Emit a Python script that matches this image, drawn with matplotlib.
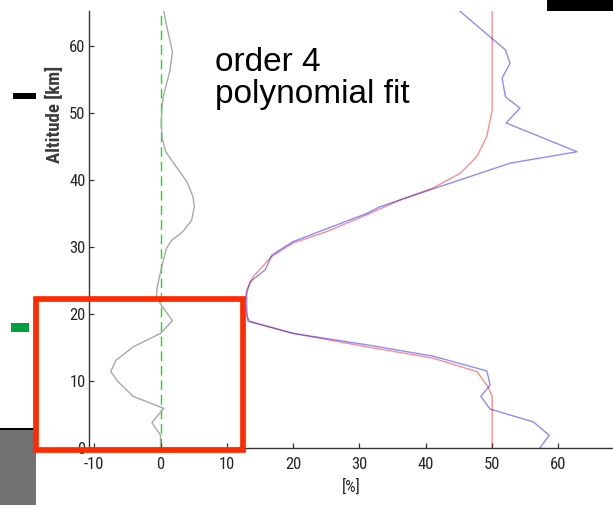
import matplotlib.pyplot as plt
from matplotlib.patches import Rectangle

plt.rcParams['font.family'] = ['Liberation Sans Narrow', 'DejaVu Sans Condensed',
                               'Roboto Condensed', 'Liberation Sans']
plt.rcParams['lines.scale_dashes'] = False
plt.rcParams['axes.unicode_minus'] = False

# Measured profile (blue) and its order 4 polynomial fit (red), in %
data_alt = [0, 1.9, 3.9, 5.8, 7.7, 9.4, 11.5, 13.7, 15.4, 17.1, 18.9, 20.6, 23.1, 24.8, 26.6,
            28.8, 30.8, 35.0, 36.0, 37.0, 38.0, 42.0, 42.5, 44.2, 48.5, 50.7, 52.4, 55.2, 57.4,
            59.4, 65.2]
data_val = [57.2, 58.6, 56.2, 49.7, 48.3, 49.7, 49.2, 41.1, 31.1, 20.0, 13.2, 13.0, 13.0, 13.5, 15.8,
            16.8, 20.0, 31.1, 33.1, 36.1, 39.1, 51.2, 52.7, 62.8, 52.1, 54.2, 52.0, 51.5, 52.7,
            52.0, 45.1]

fit_alt = [0, 7.7, 9.1, 11.4, 13.4, 15.1, 17.1, 18.9, 19.6, 21.6, 23.6, 25.6, 28.6, 30.6, 32.3,
           34.8, 37.0, 38.8, 41.0, 43.5, 46.5, 50.4, 65.2]
fit_val = [50.0, 50.0, 49.4, 47.7, 41.1, 31.1, 20.0, 13.5, 13.0, 12.7, 13.0, 14.0, 16.8, 20.0, 25.1,
           31.1, 36.1, 41.1, 45.2, 47.7, 49.2, 50.0, 50.0]

# Residual profile (gray), in %
res_alt = [0, 1.9, 3.8, 5.9, 7.7, 9.9, 11.4, 13.1, 15.1, 17.1, 19.0, 21.5, 22.5, 24.0, 27.1, 29.8,
           31.0, 32.3, 34.0, 36.0, 37.5, 39.7, 42.2, 44.2, 46.0, 48.2, 50.4, 52.4, 56.2, 59.1, 63.1, 65.2]
res_val = [0.0, 0.0, -1.3, 0.5, -4.1, -6.4, -7.5, -6.7, -4.1, 0.0, 1.8, 0.0, -0.6, -0.5, 0.2, 0.9,
           1.7, 3.4, 4.7, 5.1, 4.9, 4.0, 2.2, 0.8, 0.3, 0.1, 0.2, 0.4, 1.4, 1.8, 0.9, 0.5]

x_ticks = [-10, 0, 10, 20, 30, 40, 50, 60]
y_ticks = [0, 10, 20, 30, 40, 50, 60]

fig = plt.figure(figsize=(6.13, 5.05), dpi=100)
ax = fig.add_axes([89 / 613, 57 / 505, 524 / 613, 437 / 505])

ax.axvline(0, color='#00ee00', lw=1.0, dashes=(7, 3.5), zorder=1)
ax.plot(res_val, res_alt, color='#a8a8a8', lw=1.0, zorder=2)
ax.plot(fit_val, fit_alt, color='#ff0000', alpha=0.45, lw=1.0, zorder=3)
ax.plot(data_val, data_alt, color='#0000ff', alpha=0.45, lw=1.0, zorder=4)

ax.set_xlim(-10.78, 68.22)
ax.set_ylim(0, 65.2)
ax.set_xticks(x_ticks)
ax.set_yticks(y_ticks)
for side in ['top', 'right']:
    ax.spines[side].set_visible(False)
for side in ['left', 'bottom']:
    ax.spines[side].set_color('#333333')
    ax.spines[side].set_linewidth(1.0)
ax.tick_params(direction='in', length=3.6, width=0.9, color='#333333',
               labelsize=12, labelcolor='#262626')
ax.tick_params(axis='x', pad=6.5)
ax.tick_params(axis='y', pad=2.5)

ax.set_xlabel('[%]', fontsize=12, color='#262626', labelpad=5)
ax.set_ylabel('Altitude [km]', fontsize=13.5, fontweight='bold', color='#3a3a3a', va='center')
ax.yaxis.set_label_coords(-0.0649, 0.764)

fig.text(215 / 613, 1 - 102.7 / 505, 'order 4\npolynomial fit', fontsize=24,
         family=['Liberation Sans', 'DejaVu Sans'], color='black',
         ha='left', va='baseline', linespacing=1.02)

# slide decorations around the plot
fig.patches.append(Rectangle((546.7 / 613, 1 - 11 / 505), 66.3 / 613, 11 / 505,
                             transform=fig.transFigure, facecolor='black', edgecolor='none'))
fig.patches.append(Rectangle((13.3 / 613, 1 - 99 / 505), 22.7 / 613, 6.3 / 505,
                             transform=fig.transFigure, facecolor='black', edgecolor='none'))
fig.patches.append(Rectangle((11 / 613, 1 - 332.3 / 505), 17.7 / 613, 9 / 505,
                             transform=fig.transFigure, facecolor='#00a040', edgecolor='none'))
fig.patches.append(Rectangle((0, 0), 36 / 613, 1 - 429 / 505,
                             transform=fig.transFigure, facecolor='#727272', edgecolor='none'))
fig.patches.append(Rectangle((0, 1 - 430 / 505), 36 / 613, 1.8 / 505,
                             transform=fig.transFigure, facecolor='black', edgecolor='none'))

# highlight box around the lower residual
fig.patches.append(Rectangle((36.2 / 613, 1 - 449.8 / 505), 207 / 613, 151.3 / 505,
                             transform=fig.transFigure, facecolor='none',
                             edgecolor='#ff2a00', lw=4.1, zorder=5))

fig.savefig('out.png', dpi=100)
